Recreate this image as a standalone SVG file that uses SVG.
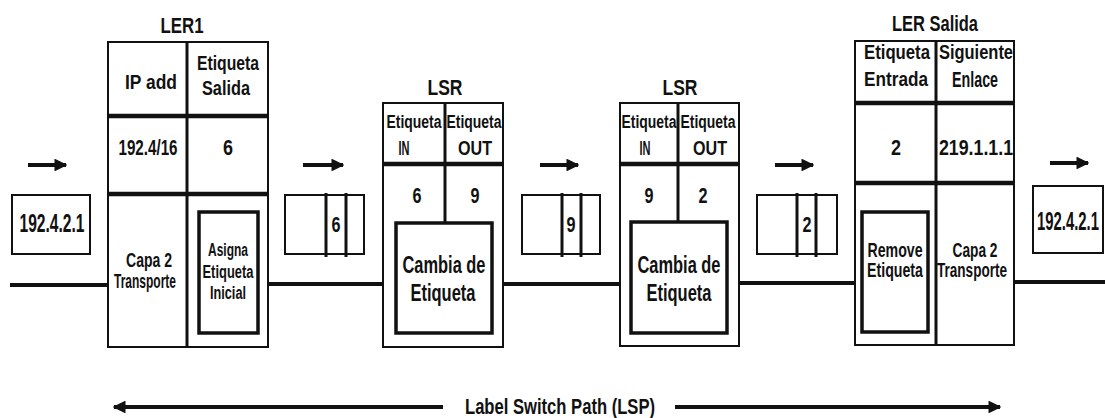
<svg xmlns="http://www.w3.org/2000/svg" width="1105" height="418" viewBox="0 0 1105 418">
<style>
text{font-family:"Liberation Sans",Arial,sans-serif;font-weight:bold;fill:#111;text-anchor:middle}
.box{fill:#fff;stroke:#111;stroke-width:2}
.ibox{fill:none;stroke:#111;stroke-width:3.5}
.thick{stroke:#111;stroke-width:4.5;fill:none}
.div{stroke:#111;stroke-width:3;fill:none}
.link{stroke:#111;stroke-width:4;fill:none}
.arr{stroke:#111;stroke-width:4;fill:none}
.s26{font-size:26px}
.s23{font-size:23px}
.s22{font-size:22px}
.s21{font-size:21px}
.s20{font-size:20px}
.s18{font-size:18px}
</style>
<defs>
<marker id="ah" viewBox="0 0 10 10" refX="9" refY="5" markerWidth="3.2" markerHeight="3.2" orient="auto-start-reverse" markerUnits="strokeWidth">
<path d="M0,0 L10,5 L0,10 Z" fill="#111"/>
</marker>
</defs>
<g id="connectors">
<line class="link" x1="10" y1="285" x2="108" y2="285"/>
<line class="link" x1="268" y1="284" x2="383" y2="284"/>
<line class="link" x1="503" y1="284" x2="620" y2="284"/>
<line class="link" x1="739" y1="283" x2="855" y2="283"/>
<line class="link" x1="1014" y1="282" x2="1105" y2="282"/>
<line class="arr" x1="28" y1="165" x2="66" y2="165" marker-end="url(#ah)"/>
<line class="arr" x1="303" y1="165" x2="343" y2="165" marker-end="url(#ah)"/>
<line class="arr" x1="540" y1="165" x2="578" y2="165" marker-end="url(#ah)"/>
<line class="arr" x1="775" y1="165" x2="813" y2="165" marker-end="url(#ah)"/>
<line class="arr" x1="1050" y1="163" x2="1088" y2="163" marker-end="url(#ah)"/>
<line class="arr" x1="114" y1="407" x2="443" y2="407" marker-start="url(#ah)"/>
<line class="arr" x1="675" y1="407" x2="1000" y2="407" marker-end="url(#ah)"/>
</g>
<g id="lsp-label">
<text class="s22" x="560" y="414" textLength="190" lengthAdjust="spacingAndGlyphs">Label Switch Path (LSP)</text>
</g>
<g id="packet-in">
<rect class="box" x="12" y="195" width="78" height="59"/>
<text class="s26" x="52" y="232" textLength="65" lengthAdjust="spacingAndGlyphs">192.4.2.1</text>
</g>
<g id="ler1">
<text class="s22" x="182" y="33" textLength="43" lengthAdjust="spacingAndGlyphs">LER1</text>
<rect class="box" x="108" y="42" width="160" height="305"/>
<line class="thick" x1="108" y1="116" x2="268" y2="116"/>
<line class="thick" x1="108" y1="194" x2="268" y2="194"/>
<line class="div" x1="187" y1="42" x2="187" y2="347"/>
<text class="s21" x="151" y="89" textLength="52" lengthAdjust="spacingAndGlyphs">IP add</text>
<text class="s20" x="228" y="70" textLength="62" lengthAdjust="spacingAndGlyphs">Etiqueta</text>
<text class="s20" x="226" y="95" textLength="48" lengthAdjust="spacingAndGlyphs">Salida</text>
<text class="s22" x="148" y="155" textLength="59" lengthAdjust="spacingAndGlyphs">192.4/16</text>
<text class="s22" x="228" y="155" textLength="10" lengthAdjust="spacingAndGlyphs">6</text>
<text class="s21" x="149" y="267" textLength="46" lengthAdjust="spacingAndGlyphs">Capa 2</text>
<text class="s21" x="145" y="288" textLength="62" lengthAdjust="spacingAndGlyphs">Transporte</text>
<rect class="ibox" x="199" y="212" width="59" height="121"/>
<text class="s18" x="228" y="256" textLength="40" lengthAdjust="spacingAndGlyphs">Asigna</text>
<text class="s18" x="228" y="278" textLength="51" lengthAdjust="spacingAndGlyphs">Etiqueta</text>
<text class="s18" x="228" y="299" textLength="36" lengthAdjust="spacingAndGlyphs">Inicial</text>
</g>
<g id="packet-6">
<rect class="box" x="285" y="195" width="79" height="59"/>
<line class="div" x1="326" y1="193" x2="326" y2="257"/>
<line class="div" x1="346" y1="193" x2="346" y2="257"/>
<text class="s22" x="336" y="232" textLength="9" lengthAdjust="spacingAndGlyphs">6</text>
</g>
<g id="lsr1">
<text class="s22" x="445" y="95" textLength="35" lengthAdjust="spacingAndGlyphs">LSR</text>
<rect class="box" x="383" y="103" width="120" height="244"/>
<line class="thick" x1="383" y1="164" x2="503" y2="164"/>
<line class="div" x1="445" y1="103" x2="445" y2="223"/>
<text class="s18" x="414" y="128" textLength="55" lengthAdjust="spacingAndGlyphs">Etiqueta</text>
<text class="s20" x="404" y="155" textLength="11" lengthAdjust="spacingAndGlyphs">IN</text>
<text class="s18" x="474" y="128" textLength="55" lengthAdjust="spacingAndGlyphs">Etiqueta</text>
<text class="s20" x="475" y="155" textLength="34" lengthAdjust="spacingAndGlyphs">OUT</text>
<text class="s22" x="417" y="203" textLength="9" lengthAdjust="spacingAndGlyphs">6</text>
<text class="s22" x="475" y="203" textLength="9" lengthAdjust="spacingAndGlyphs">9</text>
<rect class="ibox" x="396" y="223" width="96" height="110"/>
<text class="s23" x="444" y="273" textLength="83" lengthAdjust="spacingAndGlyphs">Cambia de</text>
<text class="s23" x="443" y="301" textLength="65" lengthAdjust="spacingAndGlyphs">Etiqueta</text>
</g>
<g id="packet-9">
<rect class="box" x="522" y="195" width="78" height="59"/>
<line class="div" x1="562" y1="193" x2="562" y2="257"/>
<line class="div" x1="581" y1="193" x2="581" y2="257"/>
<text class="s22" x="571" y="232" textLength="9" lengthAdjust="spacingAndGlyphs">9</text>
</g>
<g id="lsr2">
<text class="s22" x="680" y="95" textLength="35" lengthAdjust="spacingAndGlyphs">LSR</text>
<rect class="box" x="620" y="103" width="119" height="243"/>
<line class="thick" x1="620" y1="164" x2="739" y2="164"/>
<line class="div" x1="678" y1="103" x2="678" y2="222"/>
<text class="s18" x="649" y="128" textLength="55" lengthAdjust="spacingAndGlyphs">Etiqueta</text>
<text class="s20" x="645" y="155" textLength="11" lengthAdjust="spacingAndGlyphs">IN</text>
<text class="s18" x="708" y="128" textLength="55" lengthAdjust="spacingAndGlyphs">Etiqueta</text>
<text class="s20" x="710" y="155" textLength="34" lengthAdjust="spacingAndGlyphs">OUT</text>
<text class="s22" x="649" y="203" textLength="9" lengthAdjust="spacingAndGlyphs">9</text>
<text class="s22" x="703" y="203" textLength="9" lengthAdjust="spacingAndGlyphs">2</text>
<rect class="ibox" x="631" y="222" width="96" height="111"/>
<text class="s23" x="679" y="273" textLength="83" lengthAdjust="spacingAndGlyphs">Cambia de</text>
<text class="s23" x="679" y="301" textLength="65" lengthAdjust="spacingAndGlyphs">Etiqueta</text>
</g>
<g id="packet-2">
<rect class="box" x="757" y="195" width="80" height="59"/>
<line class="div" x1="797" y1="193" x2="797" y2="257"/>
<line class="div" x1="816" y1="193" x2="816" y2="257"/>
<text class="s22" x="807" y="232" textLength="9" lengthAdjust="spacingAndGlyphs">2</text>
</g>
<g id="ler-salida">
<text class="s22" x="935" y="31" textLength="86" lengthAdjust="spacingAndGlyphs">LER Salida</text>
<rect class="box" x="855" y="41" width="159" height="304"/>
<line class="thick" x1="855" y1="103" x2="1014" y2="103"/>
<line class="thick" x1="855" y1="183" x2="1014" y2="183"/>
<line class="div" x1="936" y1="41" x2="936" y2="345"/>
<text class="s20" x="897" y="59" textLength="66" lengthAdjust="spacingAndGlyphs">Etiqueta</text>
<text class="s20" x="896" y="86" textLength="64" lengthAdjust="spacingAndGlyphs">Entrada</text>
<text class="s20" x="976" y="59" textLength="74" lengthAdjust="spacingAndGlyphs">Siguiente</text>
<text class="s22" x="975" y="87" textLength="46" lengthAdjust="spacingAndGlyphs">Enlace</text>
<text class="s22" x="896" y="155" textLength="10" lengthAdjust="spacingAndGlyphs">2</text>
<text class="s22" x="976" y="155" textLength="74" lengthAdjust="spacingAndGlyphs">219.1.1.1</text>
<rect class="ibox" x="862" y="212" width="66" height="120"/>
<text class="s20" x="895" y="257" textLength="55" lengthAdjust="spacingAndGlyphs">Remove</text>
<text class="s20" x="895" y="277" textLength="56" lengthAdjust="spacingAndGlyphs">Etiqueta</text>
<text class="s20" x="975" y="257" textLength="45" lengthAdjust="spacingAndGlyphs">Capa 2</text>
<text class="s20" x="972" y="277" textLength="70" lengthAdjust="spacingAndGlyphs">Transporte</text>
</g>
<g id="packet-out">
<rect class="box" x="1033" y="186" width="70" height="67"/>
<text class="s26" x="1068" y="230" textLength="62" lengthAdjust="spacingAndGlyphs">192.4.2.1</text>
</g>
</svg>
